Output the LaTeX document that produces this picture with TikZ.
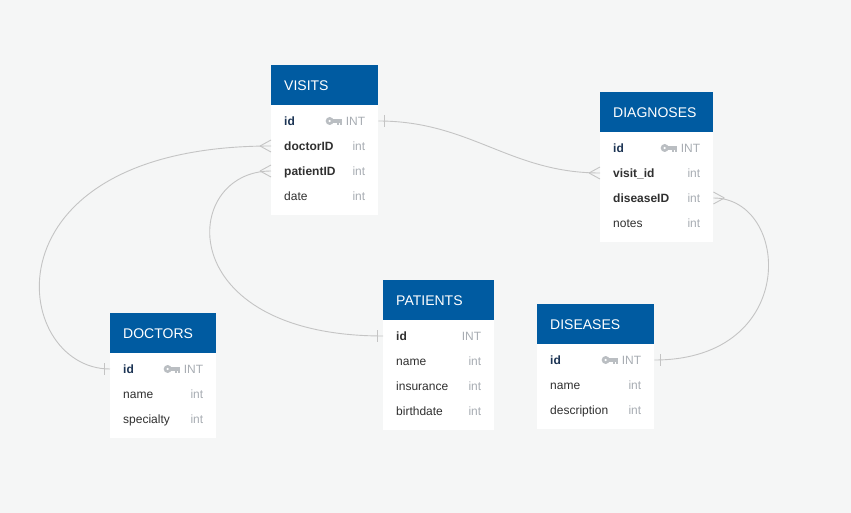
\documentclass[tikz,border=0pt]{standalone}
\usepackage{fontspec}
\setmainfont{Liberation Sans}
\definecolor{bg}{RGB}{245,246,246}
\definecolor{hdrblue}{RGB}{0,91,161}
\definecolor{pktext}{RGB}{28,52,84}
\definecolor{fldtext}{RGB}{48,48,48}
\definecolor{typgray}{RGB}{168,173,179}
\definecolor{keygray}{RGB}{186,190,194}
\definecolor{lnk}{RGB}{196,196,196}
% key glyph left of a type node
\newcommand{\keyicon}[1]{%
  \fill[keygray] ([xshift=-16pt]#1.west) circle (4pt);
  \fill[white] ([xshift=-16pt]#1.west) circle (1.2pt);
  \fill[keygray] ([xshift=-13pt,yshift=-1.8pt]#1.west) rectangle ([xshift=-4pt,yshift=1.6pt]#1.west);
  \fill[keygray] ([xshift=-8.2pt,yshift=-1.8pt]#1.west) rectangle ([xshift=-6.4pt,yshift=-4pt]#1.west);
  \fill[keygray] ([xshift=-5.8pt,yshift=-1.8pt]#1.west) rectangle ([xshift=-4pt,yshift=-4pt]#1.west);}
% crow's foot (many) and bar (one) ends
\newcommand{\crowW}[1]{\draw[conn] ([xshift=-11pt]#1.west) -- ([yshift=6pt]#1.west) ([xshift=-11pt]#1.west) -- ([yshift=-6pt]#1.west);}
\newcommand{\crowE}[1]{\draw[conn] ([xshift=11pt]#1.east) -- ([yshift=6pt]#1.east) ([xshift=11pt]#1.east) -- ([yshift=-6pt]#1.east);}
\newcommand{\oneW}[1]{\draw[conn] ([xshift=-6pt,yshift=6pt]#1.west) -- ([xshift=-6pt,yshift=-6pt]#1.west);}
\newcommand{\oneE}[1]{\draw[conn] ([xshift=6pt,yshift=6pt]#1.east) -- ([xshift=6pt,yshift=-6pt]#1.east);}
\begin{document}
\begin{tikzpicture}[x=1pt,y=-1pt,
    hdr/.style={fill=hdrblue, text=white, font=\fontsize{14}{16}\selectfont, anchor=north west, align=left,
      inner xsep=13pt, inner ysep=0pt, minimum height=40pt, text height=10pt, text depth=0pt},
    tbl/.style={fill=white, anchor=north west, inner sep=0pt},
    row/.style={anchor=west, align=left, inner xsep=13pt, inner ysep=0pt, text height=8.6pt, text depth=0pt,
      font=\fontsize{12}{14}\selectfont, text=fldtext},
    pk/.style={font=\fontsize{12}{14}\selectfont\bfseries, text=pktext},
    fk/.style={font=\fontsize{12}{14}\selectfont\bfseries},
    typ/.style={anchor=east, inner sep=0pt, text height=8.6pt, text depth=0pt,
      font=\fontsize{12}{14}\selectfont, text=typgray},
    conn/.style={draw=lnk, line width=0.9pt}]
  \useasboundingbox (0,0) rectangle (851,513);
  \fill[bg] (0,0) rectangle (851,513);

  % VISITS
  \node[tbl, minimum width=107pt, minimum height=110pt] (visits-box) at (271,105) {};
  \node[hdr, text width=81pt] (visits) at (271,65) {VISITS};
  \node[row, pk, text width=81pt] (visits-id) at (271,121) {id};
  \node[row, fk, text width=81pt] (visits-doctor) at (271,146) {doctorID};
  \node[row, fk, text width=81pt] (visits-patient) at (271,171) {patientID};
  \node[row, text width=81pt] (visits-date) at (271,196) {date};
  \node[typ] (visits-id-t) at ([xshift=-13pt]visits-id.east) {INT};
  \node[typ] (visits-doctor-t) at ([xshift=-13pt]visits-doctor.east) {int};
  \node[typ] (visits-patient-t) at ([xshift=-13pt]visits-patient.east) {int};
  \node[typ] (visits-date-t) at ([xshift=-13pt]visits-date.east) {int};
  \keyicon{visits-id-t}

  % DIAGNOSES
  \node[tbl, minimum width=113pt, minimum height=110pt] (diag-box) at (600,132) {};
  \node[hdr, text width=87pt] (diag) at (600,92) {DIAGNOSES};
  \node[row, pk, text width=87pt] (diag-id) at (600,148) {id};
  \node[row, fk, text width=87pt] (diag-visit) at (600,173) {visit\_id};
  \node[row, fk, text width=87pt] (diag-disease) at (600,198) {diseaseID};
  \node[row, text width=87pt] (diag-notes) at (600,223) {notes};
  \node[typ] (diag-id-t) at ([xshift=-13pt]diag-id.east) {INT};
  \node[typ] (diag-visit-t) at ([xshift=-13pt]diag-visit.east) {int};
  \node[typ] (diag-disease-t) at ([xshift=-13pt]diag-disease.east) {int};
  \node[typ] (diag-notes-t) at ([xshift=-13pt]diag-notes.east) {int};
  \keyicon{diag-id-t}

  % DOCTORS
  \node[tbl, minimum width=106pt, minimum height=85pt] (doctors-box) at (110,353) {};
  \node[hdr, text width=80pt] (doctors) at (110,313) {DOCTORS};
  \node[row, pk, text width=80pt] (doctors-id) at (110,369) {id};
  \node[row, text width=80pt] (doctors-name) at (110,394) {name};
  \node[row, text width=80pt] (doctors-spec) at (110,419) {specialty};
  \node[typ] (doctors-id-t) at ([xshift=-13pt]doctors-id.east) {INT};
  \node[typ] (doctors-name-t) at ([xshift=-13pt]doctors-name.east) {int};
  \node[typ] (doctors-spec-t) at ([xshift=-13pt]doctors-spec.east) {int};
  \keyicon{doctors-id-t}

  % PATIENTS
  \node[tbl, minimum width=111pt, minimum height=110pt] (patients-box) at (383,320) {};
  \node[hdr, text width=85pt] (patients) at (383,280) {PATIENTS};
  \node[row, fk, text width=85pt] (patients-id) at (383,336) {id};
  \node[row, text width=85pt] (patients-name) at (383,361) {name};
  \node[row, text width=85pt] (patients-ins) at (383,386) {insurance};
  \node[row, text width=85pt] (patients-birth) at (383,411) {birthdate};
  \node[typ] (patients-id-t) at ([xshift=-13pt]patients-id.east) {INT};
  \node[typ] (patients-name-t) at ([xshift=-13pt]patients-name.east) {int};
  \node[typ] (patients-ins-t) at ([xshift=-13pt]patients-ins.east) {int};
  \node[typ] (patients-birth-t) at ([xshift=-13pt]patients-birth.east) {int};

  % DISEASES
  \node[tbl, minimum width=117pt, minimum height=85pt] (diseases-box) at (537,344) {};
  \node[hdr, text width=91pt] (diseases) at (537,304) {DISEASES};
  \node[row, pk, text width=91pt] (diseases-id) at (537,360) {id};
  \node[row, text width=91pt] (diseases-name) at (537,385) {name};
  \node[row, text width=91pt] (diseases-desc) at (537,410) {description};
  \node[typ] (diseases-id-t) at ([xshift=-13pt]diseases-id.east) {INT};
  \node[typ] (diseases-name-t) at ([xshift=-13pt]diseases-name.east) {int};
  \node[typ] (diseases-desc-t) at ([xshift=-13pt]diseases-desc.east) {int};
  \keyicon{diseases-id-t}

  % relations
  \draw[conn] (visits-id.east) .. controls +(92,0) and +(-90,0) .. (diag-visit.west);
  \oneE{visits-id} \crowW{diag-visit}
  \draw[conn] (doctors-id.west) .. controls +(-100,0) and +(-292,0) .. (visits-doctor.west);
  \oneW{doctors-id} \crowW{visits-doctor}
  \draw[conn] (patients-id.west) .. controls +(-213,0) and +(-91,0) .. (visits-patient.west);
  \oneW{patients-id} \crowW{visits-patient}
  \draw[conn] (diseases-id.east) .. controls +(146,0) and +(77,0) .. (diag-disease.east);
  \oneE{diseases-id} \crowE{diag-disease}
\end{tikzpicture}
\end{document}
